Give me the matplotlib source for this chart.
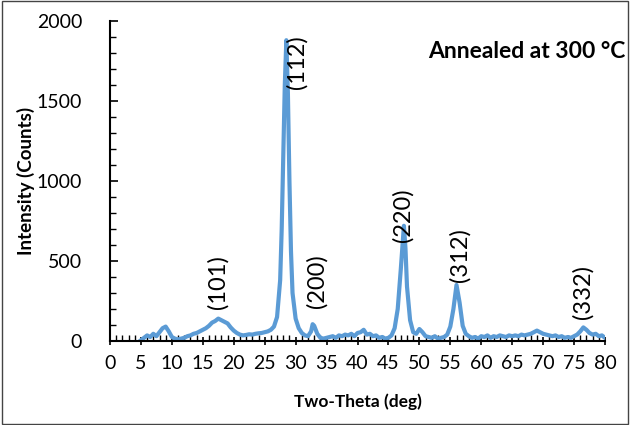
import matplotlib
matplotlib.use("Agg")
import matplotlib.pyplot as plt
from matplotlib.patches import Rectangle
from matplotlib.ticker import MultipleLocator

plt.rcParams["font.family"] = ["Lato", "DejaVu Sans"]

# XRD scan, 2-theta (deg) vs intensity (counts)
two_theta = [
    5.0, 5.5, 6.0, 6.5, 7.0, 7.5, 8.0, 8.5, 9.0, 9.5,
    10.0, 10.5, 11.0, 11.5, 12.0, 12.5, 13.0, 13.5, 14.0, 14.5,
    15.0, 15.5, 16.0, 16.5, 17.0, 17.5, 18.0, 18.5, 19.0, 19.5,
    20.0, 20.5, 21.0, 21.5, 22.0, 22.5, 23.0, 23.5, 24.0, 24.5,
    25.0, 25.5, 26.0, 26.5, 27.0, 27.5, 27.75, 28.0, 28.25, 28.5,
    28.75, 29.0, 29.25, 29.5, 30.0, 30.5, 31.0, 31.5, 32.0, 32.5,
    32.75, 33.0, 33.5, 34.0, 34.5, 35.0, 35.5, 36.0, 36.5, 37.0,
    37.5, 38.0, 38.5, 39.0, 39.5, 40.0, 40.5, 41.0, 41.5, 42.0,
    42.5, 43.0, 43.5, 44.0, 44.5, 45.0, 45.5, 46.0, 46.5, 47.0,
    47.5, 47.75, 48.0, 48.5, 49.0, 49.5, 50.0, 50.5, 51.0, 51.5,
    52.0, 52.5, 53.0, 53.5, 54.0, 54.5, 55.0, 55.5, 56.0, 56.5,
    57.0, 57.5, 58.0, 58.5, 59.0, 59.5, 60.0, 60.5, 61.0, 61.5,
    62.0, 62.5, 63.0, 63.5, 64.0, 64.5, 65.0, 65.5, 66.0, 66.5,
    67.0, 67.5, 68.0, 68.5, 69.0, 69.5, 70.0, 70.5, 71.0, 71.5,
    72.0, 72.5, 73.0, 73.5, 74.0, 74.5, 75.0, 75.5, 76.0, 76.5,
    77.0, 77.5, 78.0, 78.5, 79.0, 79.5, 80.0,
]
intensity = [
    5, 20, 35, 25, 45, 30, 55, 80, 90, 60,
    25, 15, 10, 15, 20, 30, 35, 45, 50, 60,
    70, 80, 95, 115, 125, 140, 130, 120, 110, 85,
    65, 50, 40, 35, 38, 42, 40, 45, 48, 50,
    55, 60, 70, 90, 150, 380, 700, 1150, 1600, 1880,
    1550, 1000, 560, 300, 140, 80, 50, 35, 30, 60,
    105, 95, 45, 20, 15, 20, 25, 30, 20, 35,
    30, 40, 35, 45, 30, 50, 55, 70, 40, 45,
    30, 35, 20, 25, 15, 20, 35, 80, 200, 450,
    720, 580, 340, 130, 55, 45, 75, 55, 30, 25,
    20, 30, 15, 20, 25, 40, 90, 200, 350, 240,
    95, 45, 30, 20, 25, 15, 30, 25, 35, 20,
    30, 25, 35, 30, 25, 35, 30, 35, 30, 40,
    35, 40, 45, 55, 65, 55, 45, 40, 35, 30,
    35, 25, 30, 20, 25, 20, 30, 40, 60, 85,
    70, 50, 40, 45, 30, 35, 20,
]

# Miller indices and where their labels sit
hkl_labels = ["(101)", "(112)", "(200)", "(220)", "(312)", "(332)"]
hkl_x = [17.4, 30.2, 33.4, 47.3, 56.5, 76.4]
hkl_y = [370, 1745, 375, 785, 535, 305]

fig = plt.figure(figsize=(6.3, 4.25), dpi=100)
ax = fig.add_axes([110 / 630, 84 / 425, 495 / 630, 320 / 425])

ax.plot(two_theta, intensity, color="#5B9BD5", linewidth=3, solid_joinstyle="round")

for lab, x, y in zip(hkl_labels, hkl_x, hkl_y):
    ax.text(x, y, lab, rotation=90, ha="center", va="center", fontsize=17)

ax.set_xlim(0, 80)
ax.set_ylim(0, 2000)
ax.xaxis.set_major_locator(MultipleLocator(5))
ax.xaxis.set_minor_locator(MultipleLocator(1))
ax.yaxis.set_major_locator(MultipleLocator(500))
ax.yaxis.set_minor_locator(MultipleLocator(100))
ax.tick_params(axis="x", which="major", direction="inout", length=6, width=1.2, labelsize=14, pad=7)
ax.tick_params(axis="x", which="minor", direction="in", length=4, width=1)
ax.tick_params(axis="y", which="major", direction="in", length=6, width=1.2, labelsize=14, pad=20)
ax.tick_params(axis="y", which="minor", direction="in", length=4, width=1)

for side in ["top", "right"]:
    ax.spines[side].set_visible(False)
for side in ["left", "bottom"]:
    ax.spines[side].set_linewidth(1.5)

ax.set_xlabel("Two-Theta (deg)", fontsize=12.5, fontweight="bold")
ax.set_ylabel("Intensity (Counts)", fontsize=13.5, fontweight="bold")
ax.xaxis.set_label_coords(0.5, -0.163)
ax.yaxis.set_label_coords(-0.152, 0.5)

fig.text(625 / 630, 1 - 52 / 425, "Annealed at 300 °C", ha="right", va="center",
         fontsize=16.5, fontweight="bold")

fig.patches.append(Rectangle((0.003, 0.003), 0.994, 0.994, transform=fig.transFigure,
                             fill=False, edgecolor="#444444", linewidth=1))

fig.savefig("out.png", dpi=100)
